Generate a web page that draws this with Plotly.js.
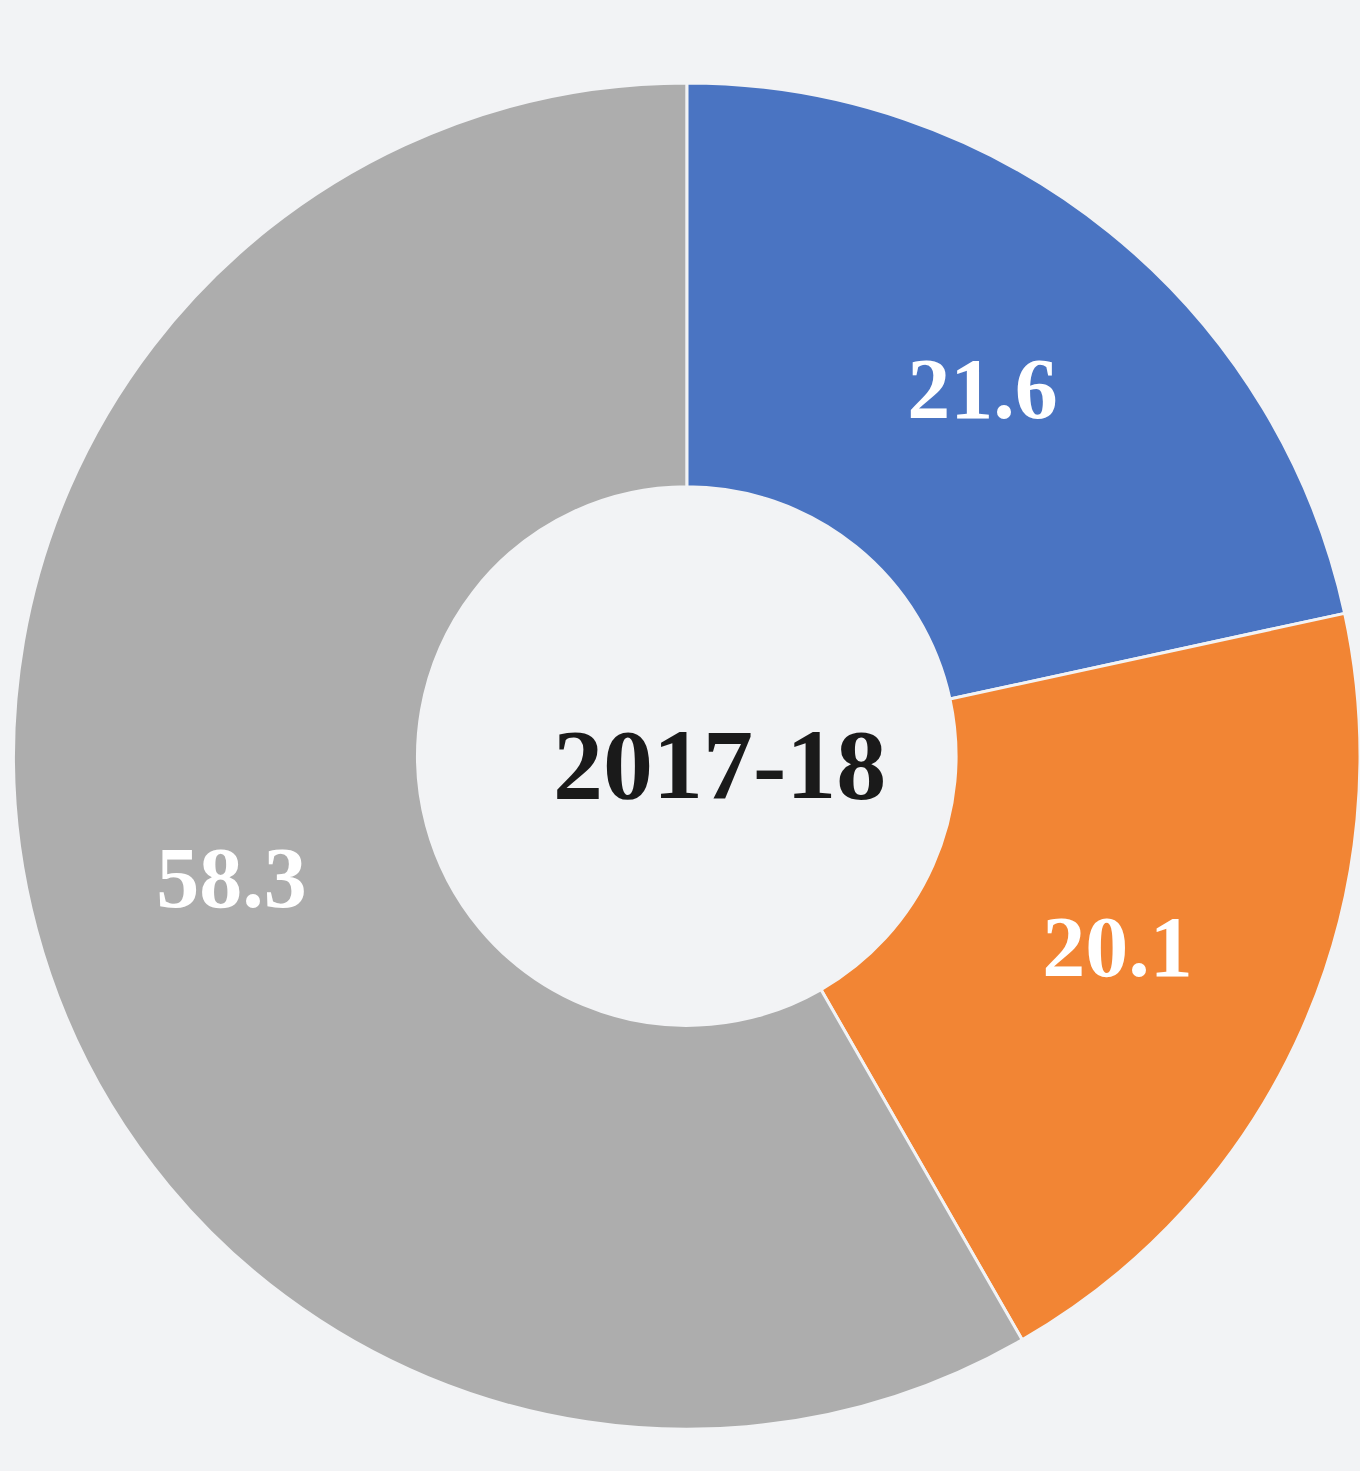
<!DOCTYPE html>
<html>
<head>
<meta charset="utf-8">
<script src="https://cdn.plot.ly/plotly-3.0.1.min.js"></script>
<style>html,body{margin:0;padding:0;background:#f2f3f5;}#chart{width:1360px;height:1471px;}</style>
</head>
<body>
<div id="chart"></div>
<script>
const categories = ["Blue", "Orange", "Grey"];
const values = [21.6, 20.1, 58.3];
const colors = ["#4a74c2", "#f28534", "#adadad"];
const centerLabel = "2017-18";

const serif = "Liberation Serif";

const trace = {
  type: "pie",
  labels: categories,
  values: values,
  hole: 0.4,
  sort: false,
  direction: "clockwise",
  rotation: 0,
  domain: {x: [0.01, 1.0], y: [0.028, 0.944]},
  marker: {colors: colors, line: {color: "#f2f3f5", width: 3}},
  texttemplate: "%{value:.1f}",
  textposition: "inside",
  insidetextorientation: "horizontal",
  textfont: {family: serif, size: 86, color: "#ffffff", weight: "bold"},
  hoverinfo: "none",
  showlegend: false
};

const layout = {
  width: 1360,
  height: 1471,
  margin: {l: 0, r: 0, t: 0, b: 0},
  paper_bgcolor: "#f2f3f5",
  plot_bgcolor: "#f2f3f5",
  showlegend: false,
  font: {family: serif},
  annotations: [{
    text: "<b>" + centerLabel + "</b>",
    x: 0.529, y: 0.48, xref: "paper", yref: "paper",
    showarrow: false,
    font: {family: serif, size: 100, color: "#1a1a1a"}
  }]
};

Plotly.newPlot("chart", [trace], layout, {displayModeBar: false, staticPlot: true});
</script>
</body>
</html>
